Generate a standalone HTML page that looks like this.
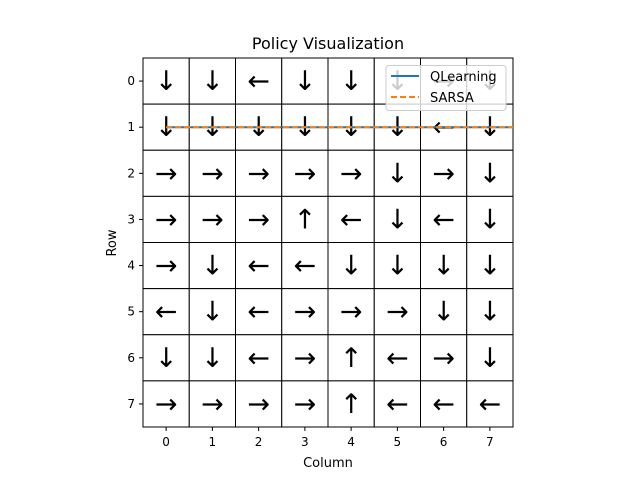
<!DOCTYPE html>
<html><head><meta charset="utf-8"><style>
body{margin:0;background:#fff}
svg text{font-family:"DejaVu Sans","Liberation Sans",sans-serif}
</style></head><body>
<svg id="chart" width="640" height="480" xmlns="http://www.w3.org/2000/svg">
<rect width="640" height="480" fill="#fff"/>
<text x="328" y="49" font-size="16" text-anchor="middle">Policy Visualization</text>
<g id="cells"></g>
<g id="arrows"></g>
<g id="ticks"></g>
<g id="lines"></g>
<text x="328" y="467" font-size="13" text-anchor="middle">Column</text>
<text x="116" y="243" font-size="13" text-anchor="middle" transform="rotate(-90 116 243)">Row</text>
<g>
<rect x="386" y="65.5" width="120" height="45" rx="3" fill="#fff" fill-opacity="0.8" stroke="#ccc"/>
<line x1="391" y1="76" x2="419" y2="76" stroke="#1f77b4" stroke-width="2"/>
<text x="430" y="81" font-size="13">QLearning</text>
<line x1="391" y1="97" x2="419" y2="97" stroke="#ff7f0e" stroke-width="2" stroke-dasharray="6,3"/>
<text x="430" y="102" font-size="13">SARSA</text>
</g>
</svg>
<script>
const rows = [0,1,2,3,4,5,6,7];
const cols = [0,1,2,3,4,5,6,7];
const policy = [
"DDLDDDRD",
"DDDDDDLD",
"RRRRRDRD",
"RRRULDLD",
"RDLLDDDD",
"LDLRRRDD",
"DDLRULRD",
"RRRRULLL"];
const qlearningX = [0, 7.5];
const qlearningY = [1, 1];
const sarsaX = [0, 7.5];
const sarsaY = [1, 1];
const glyph = {U:"↑",D:"↓",L:"←",R:"→"};
const x0=143, x1=513, y0=58, y1=427;
const cw=(x1-x0)/8, ch=(y1-y0)/8;
const sx = c => x0 + (c+0.5)*cw;
const sy = r => y0 + (r+0.5)*ch;
const NS="http://www.w3.org/2000/svg";
function mk(tag, attrs, parent){const e=document.createElementNS(NS,tag);for(const k in attrs)e.setAttribute(k,attrs[k]);parent.appendChild(e);return e;}
const cells=document.getElementById('cells'), arrows=document.getElementById('arrows'), ticks=document.getElementById('ticks'), lines=document.getElementById('lines');
rows.forEach(r=>cols.forEach(c=>{
  const rc=mk('rect',{x:sx(c)-cw/2,y:sy(r)-ch/2,width:cw,height:ch,fill:'#fff',stroke:'#000','stroke-width':1},cells);
  
  
  const t=mk('text',{x:sx(c),y:sy(r)+9,'font-size':27,'text-anchor':'middle',fill:'#000'},arrows);
  t.textContent=glyph[policy[r][c]];
  
  
}));
cols.forEach(c=>{
  const l=mk('line',{x1:sx(c),x2:sx(c),y1:y1,y2:y1+4,stroke:'#000'},ticks);
  
  
  const t=mk('text',{x:sx(c),y:y1+19,'font-size':12,'text-anchor':'middle'},ticks);
  t.textContent=c;
  
  
});
rows.forEach(r=>{
  const l=mk('line',{x1:x0-4,x2:x0,y1:sy(r),y2:sy(r),stroke:'#000'},ticks);
  
  
  const t=mk('text',{x:x0-8,y:sy(r)+4,'font-size':12,'text-anchor':'end'},ticks);
  t.textContent=r;
  
  
});
const ql=mk('polyline',{points:qlearningX.map((x,i)=>sx(x)+','+sy(qlearningY[i])).join(' '),stroke:'#1f77b4','stroke-width':2,fill:'none'},lines);


const sl=mk('polyline',{points:sarsaX.map((x,i)=>sx(x)+','+sy(sarsaY[i])).join(' '),stroke:'#ff7f0e','stroke-width':2,'stroke-dasharray':'6,3',fill:'none'},lines);


</script>
</body></html>
